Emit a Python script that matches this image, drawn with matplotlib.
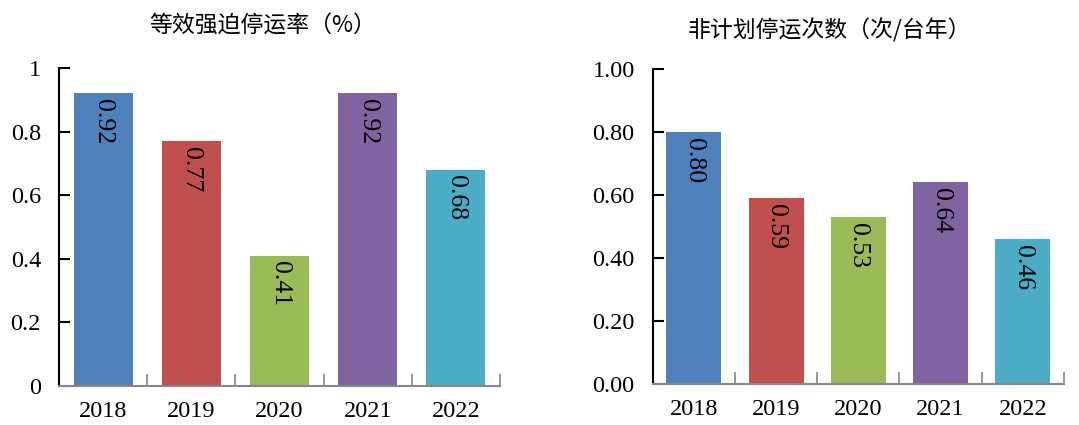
import numpy as np
import matplotlib.pyplot as plt
from matplotlib.ticker import FixedLocator, FormatStrFormatter

# Data
years = ["2018", "2019", "2020", "2021", "2022"]
efor = [0.92, 0.77, 0.41, 0.92, 0.68]          # 等效强迫停运率 (%)
unplanned = [0.80, 0.59, 0.53, 0.64, 0.46]     # 非计划停运次数 (次/台年)
colors = ["#4F81BD", "#C0504D", "#9BBB59", "#8064A2", "#4BACC6"]

serif = ["Liberation Serif", "DejaVu Serif"]
cjk = ["Noto Sans CJK SC", "DejaVu Sans"]

fig = plt.figure(figsize=(10.79, 4.25), dpi=100)
ax1 = fig.add_axes([0.0547, 0.0918, 0.4087, 0.7482])
ax2 = fig.add_axes([0.605, 0.0965, 0.381, 0.741])


def draw(ax, vals, fmt, title, tx, ty):
    x = np.arange(len(years))
    ax.bar(x, vals, width=0.67, color=colors)
    ax.set_xlim(-0.5, len(years) - 0.5)
    ax.set_ylim(0, 1.0)
    ax.set_yticks(np.arange(0, 1.01, 0.2))
    ax.yaxis.set_major_formatter(FormatStrFormatter(fmt))
    ax.set_xticks(x)
    ax.set_xticklabels(years)
    ax.xaxis.set_minor_locator(FixedLocator(np.arange(-0.5, len(years), 1.0)))
    ax.tick_params(axis="x", which="major", length=0, pad=11)
    ax.tick_params(axis="x", which="minor", direction="in", length=9,
                   color="#888888", width=1.2)
    ax.tick_params(axis="y", direction="in", length=8, width=1.5, pad=13)
    for lab in ax.get_xticklabels() + ax.get_yticklabels():
        lab.set_fontfamily(serif)
        lab.set_fontsize(17.5)
    for s in ["top", "right"]:
        ax.spines[s].set_visible(False)
    ax.spines["left"].set_linewidth(1.5)
    ax.spines["bottom"].set_color("#888888")
    ax.spines["bottom"].set_linewidth(1.5)
    for xi, v in zip(x, vals):
        ax.annotate(f"{v:.2f}", (xi, v), xytext=(0, -4), textcoords="offset points",
                    rotation=270, ha="center", va="top", fontsize=18.5,
                    family=serif)
    fig.text(tx, ty, title, ha="center", va="center", fontsize=16.5, family=cjk)


draw(ax1, efor, "%g", "等效强迫停运率（%）", 0.243, 0.941)
draw(ax2, unplanned, "%.2f", "非计划停运次数（次/台年）", 0.769, 0.929)

fig.savefig("out.png", dpi=100)
